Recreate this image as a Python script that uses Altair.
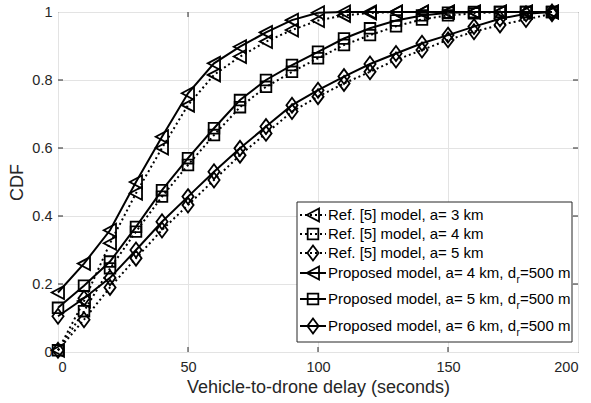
import altair as alt
import pandas as pd

# ---------------- data ----------------
delay = [0, 10, 20, 30, 40, 50, 60, 70, 80, 90, 100, 110, 120, 130, 140, 150, 160, 170, 180, 190]

ref_a3 = [0.005, 0.15, 0.32, 0.467, 0.60, 0.726, 0.815, 0.869, 0.913, 0.947, 0.975, 0.99, 0.997, 1.0, 1.0, 1.0, 1.0, 1.0, 1.0, 1.0]
ref_a4 = [0.005, 0.12, 0.246, 0.354, 0.457, 0.55, 0.638, 0.72, 0.78, 0.824, 0.864, 0.903, 0.932, 0.958, 0.978, 0.99, 0.996, 1.0, 1.0, 1.0]
ref_a5 = [0.005, 0.095, 0.19, 0.276, 0.359, 0.432, 0.506, 0.579, 0.643, 0.707, 0.751, 0.79, 0.824, 0.859, 0.888, 0.918, 0.942, 0.962, 0.978, 0.995]
prop_a4 = [0.175, 0.26, 0.358, 0.50, 0.633, 0.761, 0.849, 0.898, 0.94, 0.976, 0.998, 1.0, 1.0, 1.0, 1.0, 1.0, 1.0, 1.0, 1.0, 1.0]
prop_a5 = [0.13, 0.195, 0.266, 0.368, 0.476, 0.57, 0.658, 0.741, 0.80, 0.844, 0.883, 0.922, 0.952, 0.975, 0.99, 0.998, 1.0, 1.0, 1.0, 1.0]
prop_a6 = [0.105, 0.158, 0.218, 0.30, 0.383, 0.457, 0.53, 0.599, 0.663, 0.726, 0.77, 0.81, 0.847, 0.878, 0.908, 0.932, 0.957, 0.98, 0.995, 1.0]

series_keys = ["ref3", "ref4", "ref5", "prop4", "prop5", "prop6"]
series_vals = [ref_a3, ref_a4, ref_a5, prop_a4, prop_a5, prop_a6]
series_style = ["dotted", "dotted", "dotted", "solid", "solid", "solid"]
series_marker = ["tri", "sq", "dia", "tri", "sq", "dia"]

legend_main = ["Ref. [5] model, a= 3 km", "Ref. [5] model, a= 4 km", "Ref. [5] model, a= 5 km",
               "Proposed model, a= 4 km, d", "Proposed model, a= 5 km, d", "Proposed model, a= 6 km, d"]
legend_sub = ["", "", "", "r", "r", "r"]
legend_tail = ["", "", "", "=500 m", "=500 m", "=500 m"]

x_ticks = [0, 50, 100, 150, 200]
y_ticks = [0, 0.2, 0.4, 0.6, 0.8, 1.0]

rows = []
for k, vals, st, mk in zip(series_keys, series_vals, series_style, series_marker):
    for xv, yv in zip(delay, vals):
        rows.append({"series": k, "delay": xv, "cdf": yv, "style": st, "marker": mk})
df = pd.DataFrame(rows)

# ---------------- styling ----------------
FONT = "Liberation Sans"
TXT = "#262626"
W, H = 520, 340
TRI = "M-0.9,0L0.86,-0.93L0.86,0.93Z"
SQ = "M-0.76,-0.76L0.76,-0.76L0.76,0.76L-0.76,0.76Z"
DIA = "M0,-1.07L0.8,0L0,1.07L-0.8,0Z"
SHAPES = {"tri": TRI, "sq": SQ, "dia": DIA}
MSIZE = 196
DOT = [2, 3]

xscale = alt.Scale(domain=[0, 200], nice=False, zero=False)
yscale = alt.Scale(domain=[0, 1], nice=False)

X = alt.X("delay:Q", scale=xscale,
          axis=alt.Axis(values=x_ticks, title="Vehicle-to-drone delay (seconds)", grid=True,
                        ticks=False, tickSize=0, domain=False, labelPadding=8, titlePadding=5))
Y = alt.Y("cdf:Q", scale=yscale,
          axis=alt.Axis(values=y_ticks, format=".1~f", title="CDF", grid=True,
                        ticks=False, tickSize=0, domain=False, labelPadding=6, titlePadding=5))

base = alt.Chart(df)

dotted_lines = base.transform_filter(alt.datum.style == "dotted").mark_line(
    color="black", strokeWidth=2, strokeDash=DOT, strokeCap="butt"
).encode(x=X, y=Y, detail="series:N")

solid_lines = base.transform_filter(alt.datum.style == "solid").mark_line(
    color="black", strokeWidth=2
).encode(x=X, y=Y, detail="series:N")

points = base.mark_point(filled=False, color="black", strokeWidth=1.8, size=MSIZE, opacity=1).encode(
    x=X, y=Y,
    shape=alt.Shape("marker:N", scale=alt.Scale(domain=["tri", "sq", "dia"], range=[TRI, SQ, DIA]), legend=None),
)

# inward tick marks on all four sides
xt = pd.DataFrame({"t": x_ticks[1:-1]})
yt = pd.DataFrame({"t": y_ticks[1:-1]})
tick_layers = [
    alt.Chart(xt).mark_rule(color=TXT, strokeWidth=1).encode(
        x=alt.X("t:Q", scale=xscale), y=alt.value(H), y2=alt.value(H - 5)),
    alt.Chart(xt).mark_rule(color=TXT, strokeWidth=1).encode(
        x=alt.X("t:Q", scale=xscale), y=alt.value(0), y2=alt.value(5)),
    alt.Chart(yt).mark_rule(color=TXT, strokeWidth=1).encode(
        y=alt.Y("t:Q", scale=yscale), x=alt.value(0), x2=alt.value(5)),
    alt.Chart(yt).mark_rule(color=TXT, strokeWidth=1).encode(
        y=alt.Y("t:Q", scale=yscale), x=alt.value(W - 5), x2=alt.value(W)),
]

# ---------------- legend (manual, MATLAB style) ----------------
one = pd.DataFrame({"k": [0]})
LX0, LX1, LY0, LY1 = 239, 514, 190, 330
row_y = [203, 222, 241, 261, 287, 314]
legend_layers = [
    alt.Chart(one).mark_rect(fill="white", stroke=TXT, strokeWidth=1).encode(
        x=alt.value(LX0), x2=alt.value(LX1), y=alt.value(LY0), y2=alt.value(LY1))
]
FS = 15
for i in range(6):
    ry = row_y[i]
    line_kw = dict(color="black", strokeWidth=2)
    if series_style[i] == "dotted":
        line_kw.update(strokeDash=DOT, strokeCap="butt")
    legend_layers.append(alt.Chart(one).mark_rule(**line_kw).encode(
        x=alt.value(242), x2=alt.value(268), y=alt.value(ry)))
    legend_layers.append(alt.Chart(one).mark_point(
        filled=False, color="black", strokeWidth=1.8, size=MSIZE, opacity=1,
        shape=SHAPES[series_marker[i]]).encode(x=alt.value(255), y=alt.value(ry)))
    legend_layers.append(alt.Chart(one).mark_text(
        text=legend_main[i], font=FONT, fontSize=FS, color="black", align="left", baseline="middle"
    ).encode(x=alt.value(270), y=alt.value(ry)))
    if legend_sub[i]:
        main_w = 12.534 * FS
        legend_layers.append(alt.Chart(one).mark_text(
            text=legend_sub[i], font=FONT, fontSize=10, color="black", align="left", baseline="middle"
        ).encode(x=alt.value(270 + main_w + 0.5), y=alt.value(ry + 7)))
        legend_layers.append(alt.Chart(one).mark_text(
            text=legend_tail[i], font=FONT, fontSize=FS, color="black", align="left", baseline="middle"
        ).encode(x=alt.value(270 + main_w + 4), y=alt.value(ry)))

chart = alt.layer(
    dotted_lines, solid_lines, points, *tick_layers, *legend_layers
).properties(
    width=W, height=H,
    autosize=alt.AutoSizeParams(type="none"),
    padding={"left": 58, "top": 12, "right": 13, "bottom": 51},
    background="white",
).configure_view(
    stroke=TXT, strokeWidth=1
).configure_axis(
    labelFont=FONT, titleFont=FONT, labelColor=TXT, titleColor=TXT,
    labelFontSize=14.5, titleFontSize=18, titleFontWeight="normal",
    gridColor="#e3e3e3", gridWidth=1,
)

chart.save("out.html", embed_options={"renderer": "svg", "actions": False})
